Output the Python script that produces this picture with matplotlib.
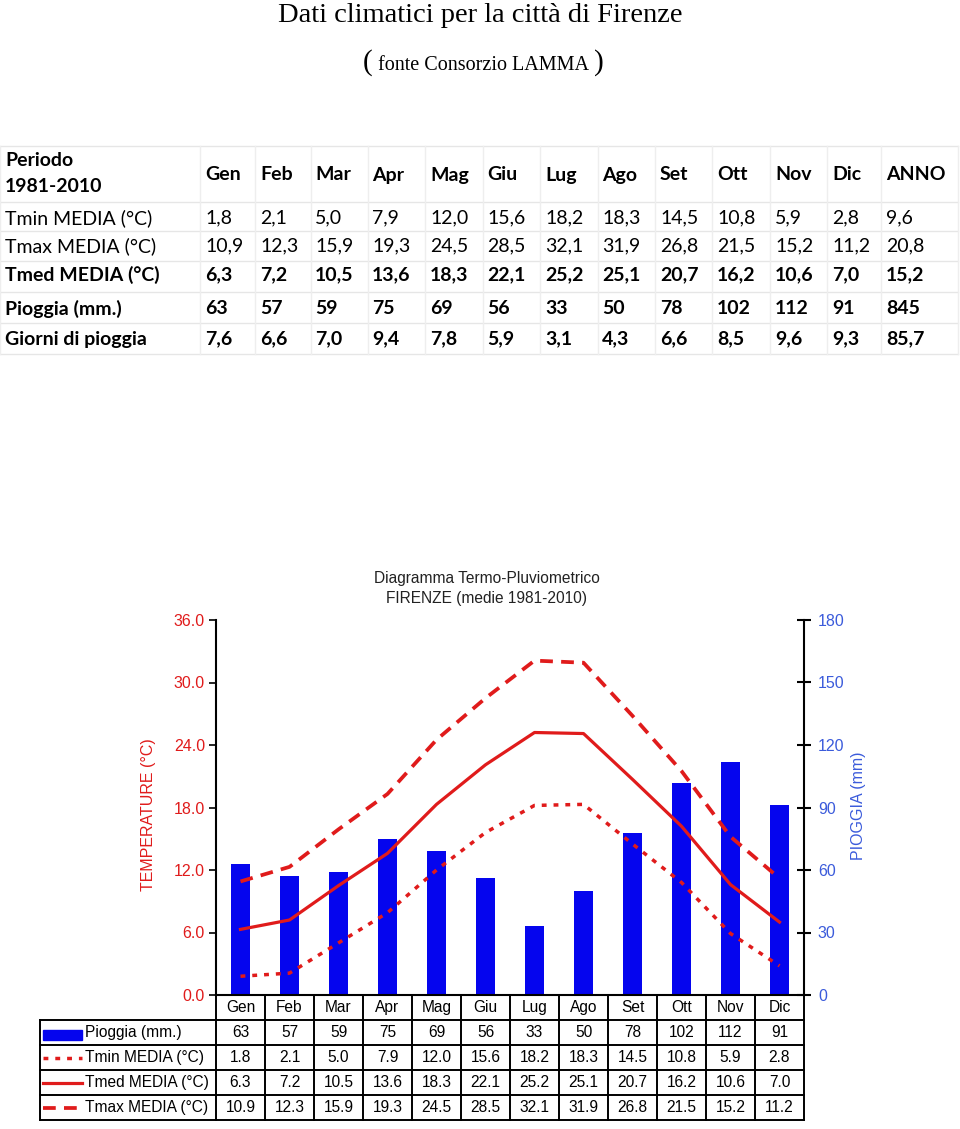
import numpy as np
import matplotlib.pyplot as plt
from matplotlib.patches import Rectangle
from matplotlib.lines import Line2D

# dati LAMMA 1981-2010
mesi = ['Gen', 'Feb', 'Mar', 'Apr', 'Mag', 'Giu', 'Lug', 'Ago', 'Set', 'Ott', 'Nov', 'Dic']
tmin = [1.8, 2.1, 5.0, 7.9, 12.0, 15.6, 18.2, 18.3, 14.5, 10.8, 5.9, 2.8]
tmax = [10.9, 12.3, 15.9, 19.3, 24.5, 28.5, 32.1, 31.9, 26.8, 21.5, 15.2, 11.2]
tmed = [6.3, 7.2, 10.5, 13.6, 18.3, 22.1, 25.2, 25.1, 20.7, 16.2, 10.6, 7.0]
pioggia = [63, 57, 59, 75, 69, 56, 33, 50, 78, 102, 112, 91]
giorni = [7.6, 6.6, 7.0, 9.4, 7.8, 5.9, 3.1, 4.3, 6.6, 8.5, 9.6, 9.3]
anno = [9.6, 20.8, 15.2, 845, 85.7]   # Tmin, Tmax, Tmed, Pioggia, Giorni

righe_top = ['Tmin MEDIA (°C)', 'Tmax MEDIA (°C)', 'Tmed MEDIA (°C)', 'Pioggia (mm.)', 'Giorni di pioggia']
righe_tab = ['Pioggia (mm.)', 'Tmin MEDIA (°C)', 'Tmed MEDIA (°C)', 'Tmax MEDIA (°C)']

red = '#e01b1b'
blue = '#0505ee'
lblue = '#3b5bdb'

W, H = 960, 1129


def box(x0, y0, x1, y1):
    return [x0 / W, 1 - y1 / H, (x1 - x0) / W, (y1 - y0) / H]


def fmt_it(v, dec=1):
    return ('%.*f' % (dec, v)).replace('.', ',')


fig = plt.figure(figsize=(W / 100, H / 100), dpi=100)

# overlay for header text and top table
ov = fig.add_axes([0, 0, 1, 1])
ov.set_xlim(0, W)
ov.set_ylim(H, 0)
ov.axis('off')

ov.text(480, 15, 'Dati climatici per la città di Firenze', family='Liberation Serif',
        fontsize=20.5, ha='center', va='center')
ov.text(372, 63, '(', family='Liberation Serif', fontsize=21, ha='right', va='center')
ov.text(483, 66, 'fonte Consorzio LAMMA', family='Liberation Serif', fontsize=14.5,
        ha='center', va='center')
ov.text(594, 63, ')', family='Liberation Serif', fontsize=21, ha='left', va='center')

# top table
tf = 'Lato'
fs = 14
col_x = [205, 260, 315, 372, 430, 487, 545, 602, 660, 717, 775, 832, 886]
col_b = [0, 200, 255, 311, 368, 425, 483, 540, 598, 655, 712, 770, 827, 881, 958]
row_b = [146, 202, 231, 261, 292, 323, 354]
row_y = [218, 246, 275, 309, 339]
for yb in row_b:
    ov.plot([0, 958], [yb, yb], color='#e6e6e6', lw=1)
for xb in col_b:
    ov.plot([xb, xb], [146, 354], color='#eeeeee', lw=1)

ov.text(5, 161, 'Periodo', family=tf, fontsize=fs, weight='bold', va='center')
ov.text(5, 187, '1981-2010', family=tf, fontsize=fs, weight='bold', va='center')
for x, m in zip(col_x, mesi + ['ANNO']):
    ov.text(x, 175, m, family=tf, fontsize=fs, weight='bold', va='center')

serie_top = [tmin, tmax, tmed, pioggia, giorni]
for r, (nome, vals, tot, y) in enumerate(zip(righe_top, serie_top, anno, row_y)):
    w = 'normal' if r < 2 else 'bold'
    ov.text(5, y, nome, family=tf, fontsize=fs, weight=w, va='center')
    if r == 3:
        txt = ['%d' % v for v in vals] + ['%d' % tot]
    else:
        txt = [fmt_it(v) for v in vals] + [fmt_it(tot)]
    for x, t in zip(col_x, txt):
        ov.text(x, y, t, family=tf, fontsize=fs, weight=w, va='center')

# chart
cf = 'Liberation Sans'
x = np.arange(len(mesi))
ax = fig.add_axes(box(216, 620, 804, 995))
ax2 = ax.twinx()
ax2.bar(x, pioggia, width=0.4, color=blue)
ax.set_zorder(ax2.get_zorder() + 1)
ax.patch.set_visible(False)

dot = (0, (1.4, 2.0))
dash = (0, (3.4, 2.2))
ax.plot(x, tmin, color=red, lw=2.5, ls=dot)
ax.plot(x, tmed, color=red, lw=2.3)
ax.plot(x, tmax, color=red, lw=2.7, ls=dash)

ax.set_xlim(-0.5, 11.5)
ax.set_ylim(0, 36)
ax2.set_ylim(0, 180)
ax.set_xticks([])
ax2.set_xticks([])
ax.set_yticks(np.arange(0, 37, 6))
ax.set_yticklabels(['%.1f' % t for t in np.arange(0, 37, 6)], family=cf)
ax2.set_yticks(np.arange(0, 181, 30))
ax2.set_yticklabels(['%d' % t for t in np.arange(0, 181, 30)], family=cf)
ax.tick_params(axis='y', direction='out', length=5, width=1.2, labelcolor=red,
               labelsize=11.5, pad=3)
ax2.tick_params(axis='y', direction='inout', length=10, width=1.5, labelcolor=lblue,
                labelsize=11.5, pad=5)
for s in ['top', 'right']:
    ax.spines[s].set_visible(False)
for s in ['top', 'left', 'bottom']:
    ax2.spines[s].set_visible(False)
ax.spines['left'].set_linewidth(1.5)
ax.spines['bottom'].set_linewidth(1.5)
ax2.spines['right'].set_linewidth(1.5)

ov.text(487, 578, 'Diagramma Termo-Pluviometrico', family=cf, fontsize=11.2,
        ha='center', va='center', color='#222222')
ov.text(487, 598, 'FIRENZE (medie 1981-2010)', family=cf, fontsize=11.2,
        ha='center', va='center', color='#222222')
ov.text(148, 815, 'TEMPERATURE (°C)', family=cf, fontsize=11.5, color=red,
        rotation=90, ha='center', va='center')
ov.text(858, 806, 'PIOGGIA (mm)', family=cf, fontsize=11.5, color=lblue,
        rotation=90, ha='center', va='center')

# data table below chart
tb = fig.add_axes(box(40, 995, 804, 1120))
left = -0.5 - 176 / 49
tb.set_xlim(left, 11.5)
tb.set_ylim(5, 0)
tb.axis('off')
lk = dict(color='black', lw=1.4, clip_on=False)
for k in range(13):
    tb.plot([k - 0.5, k - 0.5], [0, 5], **lk)
tb.plot([left, left], [1, 5], **lk)
for r in range(1, 6):
    tb.plot([left, 11.5], [r, r], **lk)

tfs = 11.2
for i, m in enumerate(mesi):
    tb.text(i, 0.5, m, family=cf, fontsize=tfs, ha='center', va='center')

serie_tab = [pioggia, tmin, tmed, tmax]
for r, (nome, vals) in enumerate(zip(righe_tab, serie_tab)):
    yc = r + 1.5
    tb.text(left + 45 / 49, yc, nome, family=cf, fontsize=tfs, va='center')
    for i, v in enumerate(vals):
        t = '%d' % v if r == 0 else '%.1f' % v
        tb.text(i, yc, t, family=cf, fontsize=tfs, ha='center', va='center')

x0, x1 = left + 3 / 49, left + 42 / 49
tb.add_patch(Rectangle((x0, 1.38), x1 - x0, 0.42, color=blue, clip_on=False))
tb.add_line(Line2D([x0, x1], [2.5, 2.5], color=red, lw=2.5, ls=dot, clip_on=False))
tb.add_line(Line2D([x0, x1], [3.5, 3.5], color=red, lw=2.3, clip_on=False))
tb.add_line(Line2D([x0, x1], [4.5, 4.5], color=red, lw=2.7, ls=dash, clip_on=False))

fig.savefig('out.png', dpi=100, facecolor='white')
